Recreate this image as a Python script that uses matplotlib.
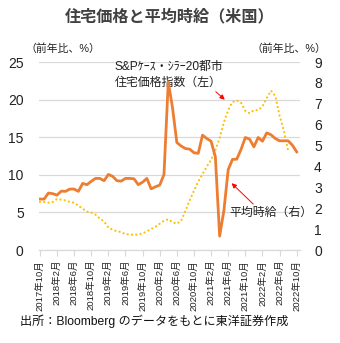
import matplotlib.pyplot as plt
import numpy as np

plt.rcParams['font.family'] = ['Liberation Sans', 'Noto Sans CJK JP', 'DejaVu Sans']

# 2017年10月 ～ 2022年10月 (monthly)
tick_labels = ['2017年10月', '2018年2月', '2018年6月', '2018年10月', '2019年2月', '2019年6月',
               '2019年10月', '2020年2月', '2020年6月', '2020年10月', '2021年2月', '2021年6月',
               '2021年10月', '2022年2月', '2022年6月', '2022年10月']

# S&Pケース・シラー20都市住宅価格指数 (前年比 %, left axis), 2017-10 .. 2022-08
case_shiller = [6.4, 6.4, 6.3, 6.4, 6.8, 6.7, 6.6, 6.4, 6.3, 5.9, 5.5, 5.1,
                5.0, 4.7, 4.2, 3.8, 3.0, 2.7, 2.5, 2.4, 2.1, 2.1, 2.0, 2.1,
                2.2, 2.5, 2.8, 3.1, 3.5, 3.9, 4.1, 3.7, 3.5, 3.9, 5.2, 6.6,
                7.9, 9.1, 10.1, 11.1, 12.0, 13.3, 14.9, 17.0, 18.6, 19.7, 19.9, 19.6,
                18.5, 18.2, 18.6, 18.6, 19.1, 20.2, 21.2, 20.5, 17.9, 15.9, 13.2]

# 平均時給 (前年比 %, right axis), 2017-10 .. 2022-10
wages = [2.44, 2.44, 2.73, 2.70, 2.63, 2.82, 2.81, 2.92, 2.92, 2.81, 3.19, 3.13,
         3.29, 3.43, 3.43, 3.32, 3.62, 3.53, 3.32, 3.30, 3.43, 3.43, 3.41, 3.13,
         3.25, 3.43, 2.93, 3.03, 3.11, 3.62, 8.05, 6.8, 5.15, 4.98, 4.86, 4.83,
         4.66, 4.63, 5.5, 5.34, 5.21, 4.47, 0.67, 1.9, 3.85, 4.34, 4.35, 4.82,
         5.39, 5.31, 4.94, 5.39, 5.21, 5.61, 5.52, 5.34, 5.23, 5.23, 5.23, 5.02, 4.7]

fig = plt.figure(figsize=(3.4, 3.43), dpi=100)
ax = fig.add_axes([0.1147, 0.271, 0.768, 0.548])
ax2 = ax.twinx()

x_cs = np.arange(len(case_shiller))
x_w = np.arange(len(wages))

# round dots like Excel's "round dot" line
ax.plot(x_cs, case_shiller, color='#FFC000', lw=1.6, linestyle=(0, (0.05, 1.9)),
        dash_capstyle='round')
ax2.plot(x_w, wages, color='#ED7D31', lw=2.0, solid_joinstyle='round')

ax.set_xlim(-0.2, 60.8)
ax.set_ylim(0, 25)
ax2.set_ylim(0, 9)
ax.set_yticks(np.arange(0, 26, 5))
ax2.set_yticks(np.arange(0, 10, 1))
ax.set_xticks(np.arange(0, 61, 4))
ax.set_xticklabels(tick_labels, rotation=90, fontsize=6.8, color='#222222')

ax.grid(axis='y', color='#d9d9d9', lw=0.9)
ax.set_axisbelow(True)
for a in (ax, ax2):
    for s in ('top', 'left', 'right'):
        a.spines[s].set_visible(False)
    a.spines['bottom'].set_color('#d9d9d9')
ax.tick_params(axis='y', length=0, pad=11, labelsize=10, labelcolor='#222222')
ax2.tick_params(axis='y', length=0, pad=10, labelsize=10, labelcolor='#222222')
ax.tick_params(axis='x', length=4, width=0.8, color='#d9d9d9', pad=3)

fig.text(0.5, 0.951, '住宅価格と平均時給（米国）', ha='center', va='center',
         fontsize=11.6, fontweight='bold', color='#404040')
fig.text(0.074, 0.857, '（前年比、%）', ha='left', va='center', fontsize=7.8, color='#222222')
fig.text(0.741, 0.857, '（前年比、%）', ha='left', va='center', fontsize=7.8, color='#222222')
fig.text(0.06, 0.062, '出所：Bloomberg のデータをもとに東洋証券作成', ha='left', va='center',
         fontsize=8.7, color='#111111')

ax.annotate('S&Pｹｰｽ・ｼﾗｰ20都市\n住宅価格指数（左）', xy=(43.2, 20.0), xycoords='data',
            xytext=(17.5, 23.3), textcoords='data', ha='left', va='center',
            fontsize=8.6, color='#222222', linespacing=1.45,
            arrowprops=dict(arrowstyle='-|>', color='#ff0000', lw=0.7,
                            mutation_scale=7, shrinkA=0, shrinkB=0,
                            relpos=(0.9, 0.0)))
ax2.annotate('平均時給（右）', xy=(44.8, 3.2), xycoords='data',
             xytext=(44.3, 1.78), textcoords='data', ha='left', va='center',
             fontsize=8.6, color='#222222',
             arrowprops=dict(arrowstyle='-|>', color='#ff0000', lw=0.7,
                             mutation_scale=7, shrinkA=0, shrinkB=0,
                             relpos=(0.32, 1.0)))

fig.savefig('out.png', dpi=100)
